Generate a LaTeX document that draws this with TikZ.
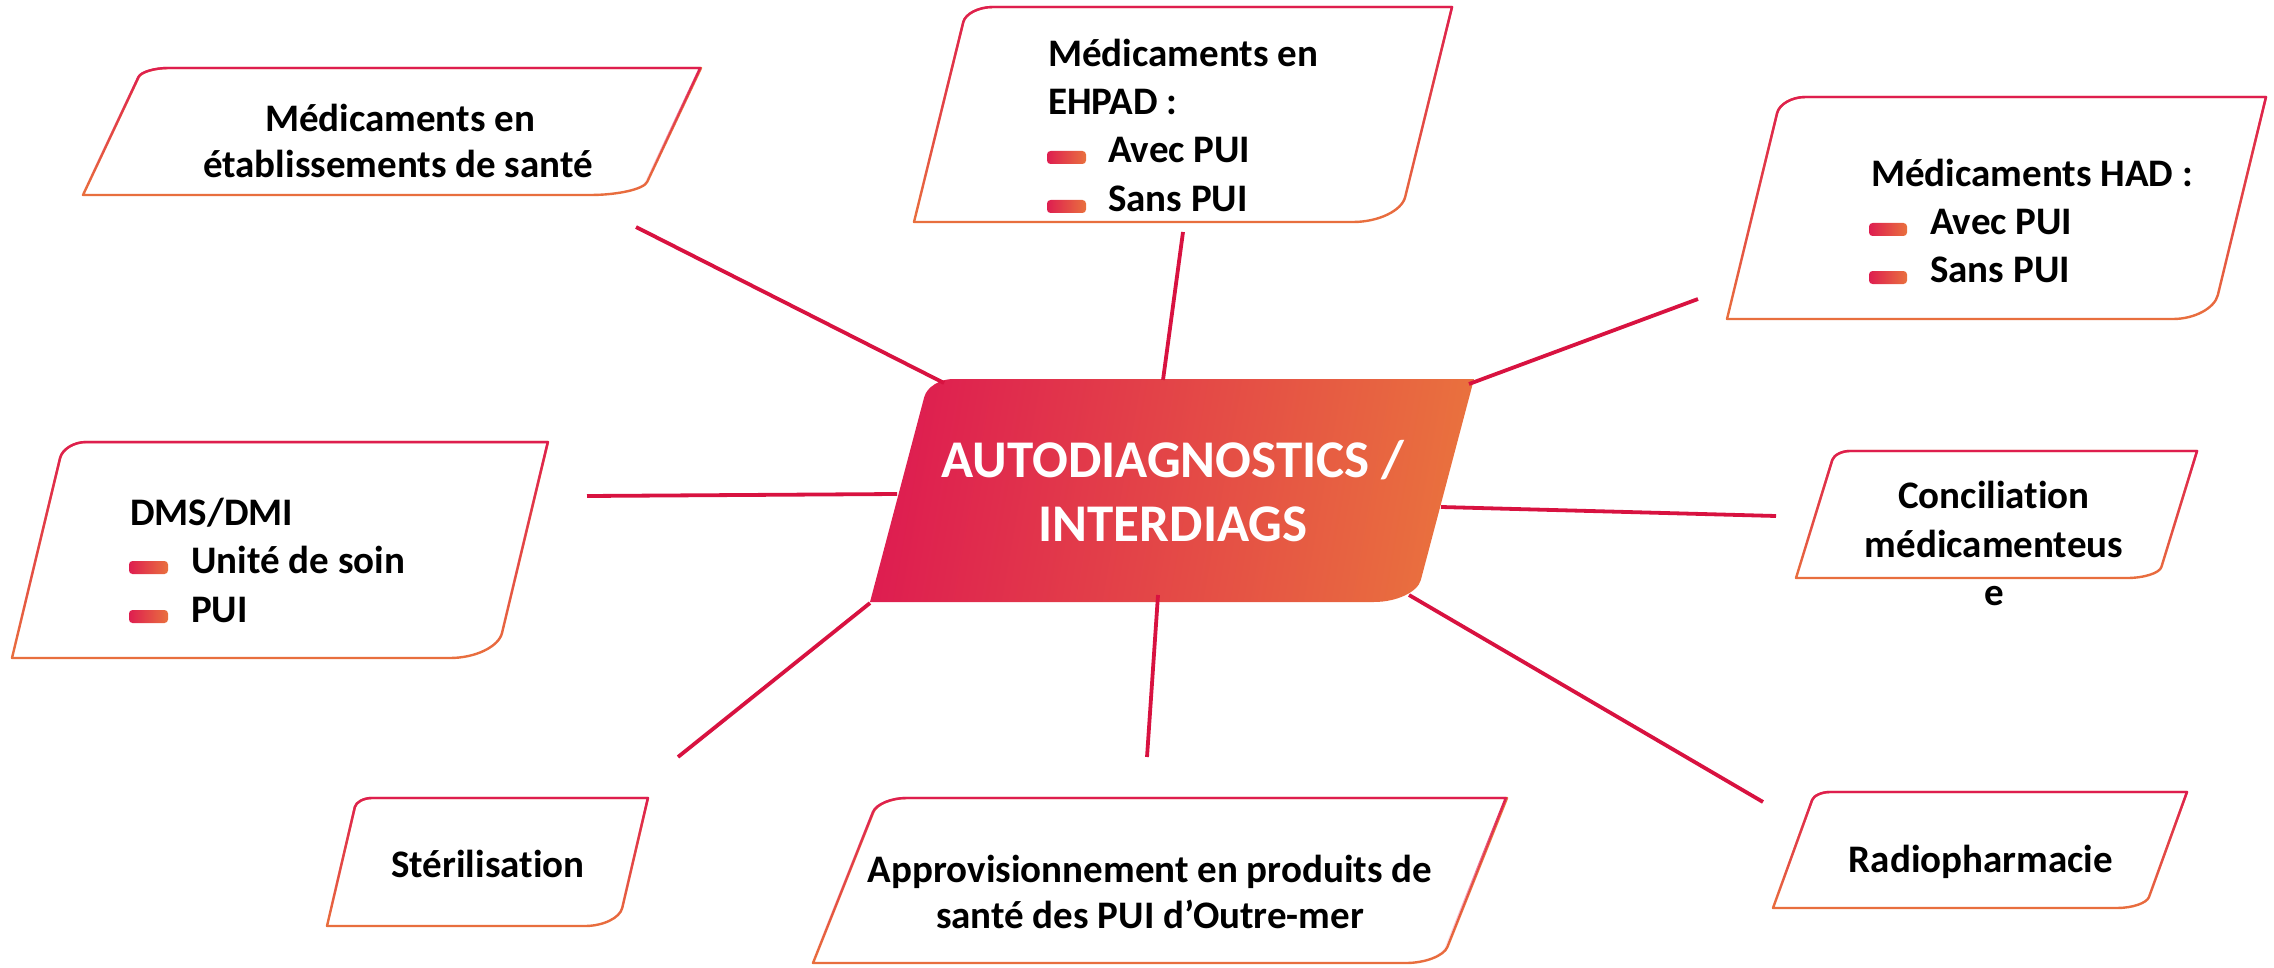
\documentclass[tikz,border=0pt]{standalone}
\usepackage{fontspec}
\setmainfont{Carlito}[Ligatures={NoCommon}]
\usetikzlibrary{fadings,calc}
\definecolor{cA}{RGB}{222,30,80}
\definecolor{cB}{RGB}{233,112,62}
\definecolor{lineC}{RGB}{216,18,64}
\tikzfading[name=fadetop, top color=transparent!0, bottom color=transparent!100]
% L T R B slant TLh TLv BRh BRv
\newcommand\gbox[9]{%
  \pgfmathsetmacro\gbH{#4-#2}%
  \pgfmathsetmacro\gbTLx{#1+#5}%
  \pgfmathsetmacro\gbAx{\gbTLx-#5*#7/\gbH}%
  \pgfmathsetmacro\gbAy{#2+#7}%
  \pgfmathsetmacro\gbCx{\gbTLx+#6}%
  \pgfmathsetmacro\gbBRx{#3-#5}%
  \pgfmathsetmacro\gbDx{\gbBRx+#5*#9/\gbH}%
  \pgfmathsetmacro\gbDy{#4-#9}%
  \pgfmathsetmacro\gbEx{\gbBRx-#8}%
  \edef\gbpath{(#1,#4) -- (\gbAx,\gbAy) .. controls ($(\gbAx,\gbAy)!0.55!(\gbTLx,#2)$) and ($(\gbCx,#2)!0.55!(\gbTLx,#2)$) .. (\gbCx,#2) -- (#3,#2) -- (\gbDx,\gbDy) .. controls ($(\gbDx,\gbDy)!0.55!(\gbBRx,#4)$) and ($(\gbEx,#4)!0.55!(\gbBRx,#4)$) .. (\gbEx,#4) -- cycle}%
}
\newcommand\outlinebox{%
  \draw[boxline, cB] \gbpath;
  \draw[boxline, cA, path fading=fadetop] \gbpath;
}
\begin{document}
\begin{tikzpicture}[x=1pt,y=-1pt,
  conn/.style={draw=lineC, line width=3.8pt},
  boxline/.style={line width=2.4pt, line join=round},
  txt/.style={font=\fontsize{39}{47}\selectfont\bfseries, inner sep=0pt},
  bigtxt/.style={font=\fontsize{53}{62}\selectfont\bfseries, text=white, inner sep=0pt},
  bul/.style={left color=cA, right color=cB, rounded corners=3.5pt}]
\useasboundingbox (0,0) rectangle (2274,968);

% ---- outlined boxes
\gbox{83}{68}{701}{195}{60}{26}{9}{51}{13}\outlinebox
\gbox{914}{7}{1452}{222}{53}{26}{15}{46}{25}\outlinebox
\gbox{1727}{97}{2266}{319}{54}{24}{16}{39}{24}\outlinebox
\gbox{12}{442}{548}{658}{52}{22}{16}{46}{25}\outlinebox
\gbox{1796}{451}{2197}{578}{39}{15}{9}{31}{11}\outlinebox
\gbox{327}{798}{648}{926}{30}{15}{9}{33}{18}\outlinebox
\gbox{813}{798}{1507}{963}{66}{28}{14}{35}{16}\outlinebox
\gbox{1773}{792}{2187}{908}{42}{15}{8}{28}{11}\outlinebox

% ---- hub
\gbox{870}{379}{1474}{602}{59}{24}{18}{41}{22}
\shade[left color=cA, right color=cB, shading angle=80] \gbpath;
\node[bigtxt, anchor=base] (hubA) at (1173,477) {AUTODIAGNOSTICS /};
\node[bigtxt, anchor=base] (hubB) at (1173,541) {INTERDIAGS};

% ---- texts
\node[txt, anchor=base] (etabA) at (400,132) {Médicaments en};
\node[txt, anchor=base] (etabB) at (398,178) {établissements de santé};

\node[txt, anchor=base west] (ehpA) at (1048,67) {Médicaments en};
\node[txt, anchor=base west] (ehpB) at (1048,115) {EHPAD :};
\shade[bul] (1047,151) rectangle (1086,164);
\node[txt, anchor=base west] (ehpC) at (1108,163) {Avec PUI};
\shade[bul] (1047,200) rectangle (1086,213);
\node[txt, anchor=base west] (ehpD) at (1108,212) {Sans PUI};

\node[txt, anchor=base west] (hadA) at (1871,187) {Médicaments HAD :};
\shade[bul] (1869,223) rectangle (1907,236);
\node[txt, anchor=base west] (hadB) at (1930,235) {Avec PUI};
\shade[bul] (1869,271) rectangle (1907,284);
\node[txt, anchor=base west] (hadC) at (1930,283) {Sans PUI};

\node[txt, anchor=base west] (dmsA) at (130,525) {DMS/DMI};
\shade[bul] (129,561) rectangle (168,574);
\node[txt, anchor=base west] (dmsB) at (191,573) {Unité de soin};
\shade[bul] (129,610) rectangle (168,623);
\node[txt, anchor=base west] (dmsC) at (191,622) {PUI};

\node[txt, anchor=base] (concA) at (1994,508) {Conciliation};
\node[txt, anchor=base] (concB) at (1994,557) {médicamenteus};
\node[txt, anchor=base] (concC) at (1994,605) {e};

\node[txt, anchor=base] (steri) at (488,877) {Stérilisation};

\node[txt, anchor=base] (approA) at (1150,882) {Approvisionnement en produits de};
\node[txt, anchor=base] (approB) at (1150,928) {santé des PUI d’Outre-mer};

\node[txt, anchor=base] (radio) at (1981,872) {Radiopharmacie};

% ---- connector end points
\coordinate (etabEnd) at (636,227);  \coordinate (hubNW) at (944,383);
\coordinate (ehpEnd) at (1183,232);  \coordinate (hubN) at (1163,380);
\coordinate (hadEnd) at (1698,299);  \coordinate (hubNE) at (1469,384);
\coordinate (dmsEnd) at (587,496);   \coordinate (hubW) at (897,494);
\coordinate (concEnd) at (1776,516); \coordinate (hubE) at (1441,507);
\coordinate (steriEnd) at (678,757); \coordinate (hubSW) at (870,603);
\coordinate (approEnd) at (1147,757);\coordinate (hubS) at (1158,595);
\coordinate (radioEnd) at (1763,802);\coordinate (hubSE) at (1409,595);

\draw[conn] (etabEnd) -- (hubNW);
\draw[conn] (ehpEnd) -- (hubN);
\draw[conn] (hadEnd) -- (hubNE);
\draw[conn] (dmsEnd) -- (hubW);
\draw[conn] (concEnd) -- (hubE);
\draw[conn] (steriEnd) -- (hubSW);
\draw[conn] (approEnd) -- (hubS);
\draw[conn] (radioEnd) -- (hubSE);
\end{tikzpicture}
\end{document}
